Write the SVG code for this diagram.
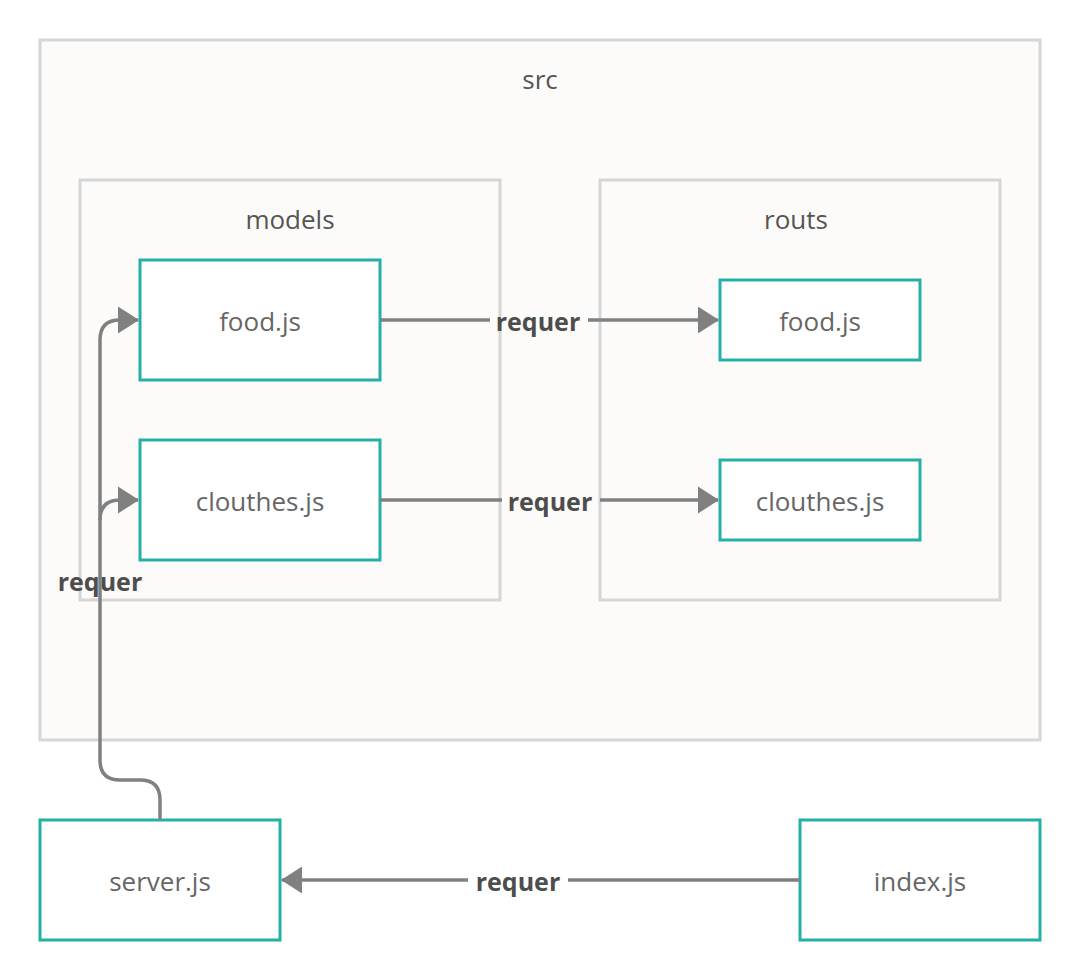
<svg xmlns="http://www.w3.org/2000/svg" width="1080" height="980" viewBox="0 0 1080 980">
<style>
.container{fill:#fcfbfa;stroke:#d6d6d6;stroke-width:3}
.node{fill:#ffffff;stroke:#26aea8;stroke-width:3}
.title{font-family:"Open Sans","Liberation Sans",sans-serif;font-size:26px;fill:#555555;text-anchor:middle}
.ntext{font-family:"Open Sans","Liberation Sans",sans-serif;font-size:26px;fill:#666666;text-anchor:middle}
.edge{fill:none;stroke:#808080;stroke-width:3.5}
.lbl{font-family:"Open Sans","Liberation Sans",sans-serif;font-size:25px;font-weight:bold;fill:#4d4d4d;text-anchor:middle}
</style>
<defs>
<marker id="arr" markerUnits="userSpaceOnUse" markerWidth="22" markerHeight="28" viewBox="0 0 22 28" refX="20" refY="14" orient="auto">
<path d="M0,0.5 L21,14 L0,27.5 Z" fill="#808080"/>
</marker>
</defs>
<rect x="0" y="0" width="1080" height="980" fill="#ffffff"/>
<g id="src"><rect class="container" x="40" y="40" width="1000" height="700"/><text class="title" x="540" y="89">src</text></g>
<g id="models"><rect class="container" x="80" y="180" width="420" height="420"/><text class="title" x="290" y="229">models</text></g>
<g id="routs"><rect class="container" x="600" y="180" width="400" height="420"/><text class="title" x="796" y="229">routs</text></g>
<g id="m-food"><rect class="node" x="140" y="260" width="240" height="120"/><text class="ntext" x="260" y="331">food.js</text></g>
<g id="m-clouthes"><rect class="node" x="140" y="440" width="240" height="120"/><text class="ntext" x="260" y="511">clouthes.js</text></g>
<g id="r-food"><rect class="node" x="720" y="280" width="200" height="80"/><text class="ntext" x="820" y="331">food.js</text></g>
<g id="r-clouthes"><rect class="node" x="720" y="460" width="200" height="80"/><text class="ntext" x="820" y="511">clouthes.js</text></g>
<g id="server"><rect class="node" x="40" y="820" width="240" height="120"/><text class="ntext" x="160" y="891">server.js</text></g>
<g id="index"><rect class="node" x="800" y="820" width="240" height="120"/><text class="ntext" x="920" y="891">index.js</text></g>
<g id="connectors">
<path class="edge" d="M380,320 L490,320 M588,320 L718,320" marker-end="url(#arr)"/>
<text class="lbl" x="538" y="331">requer</text>
<path class="edge" d="M380,500 L502,500 M600,500 L718,500" marker-end="url(#arr)"/>
<text class="lbl" x="550" y="511">requer</text>
<path class="edge" d="M800,880 L568,880 M468,880 L282,880" marker-end="url(#arr)"/>
<text class="lbl" x="518" y="891">requer</text>
<text class="lbl" x="100" y="591">requer</text>
<path class="edge" d="M160,820 L160,800 Q160,780 140,780 L120,780 Q100,780 100,760 L100,340 Q100,320 120,320 L138,320" marker-end="url(#arr)"/>
<path class="edge" d="M100,520 Q100,500 120,500 L138,500" marker-end="url(#arr)"/>
</g>
</svg>
